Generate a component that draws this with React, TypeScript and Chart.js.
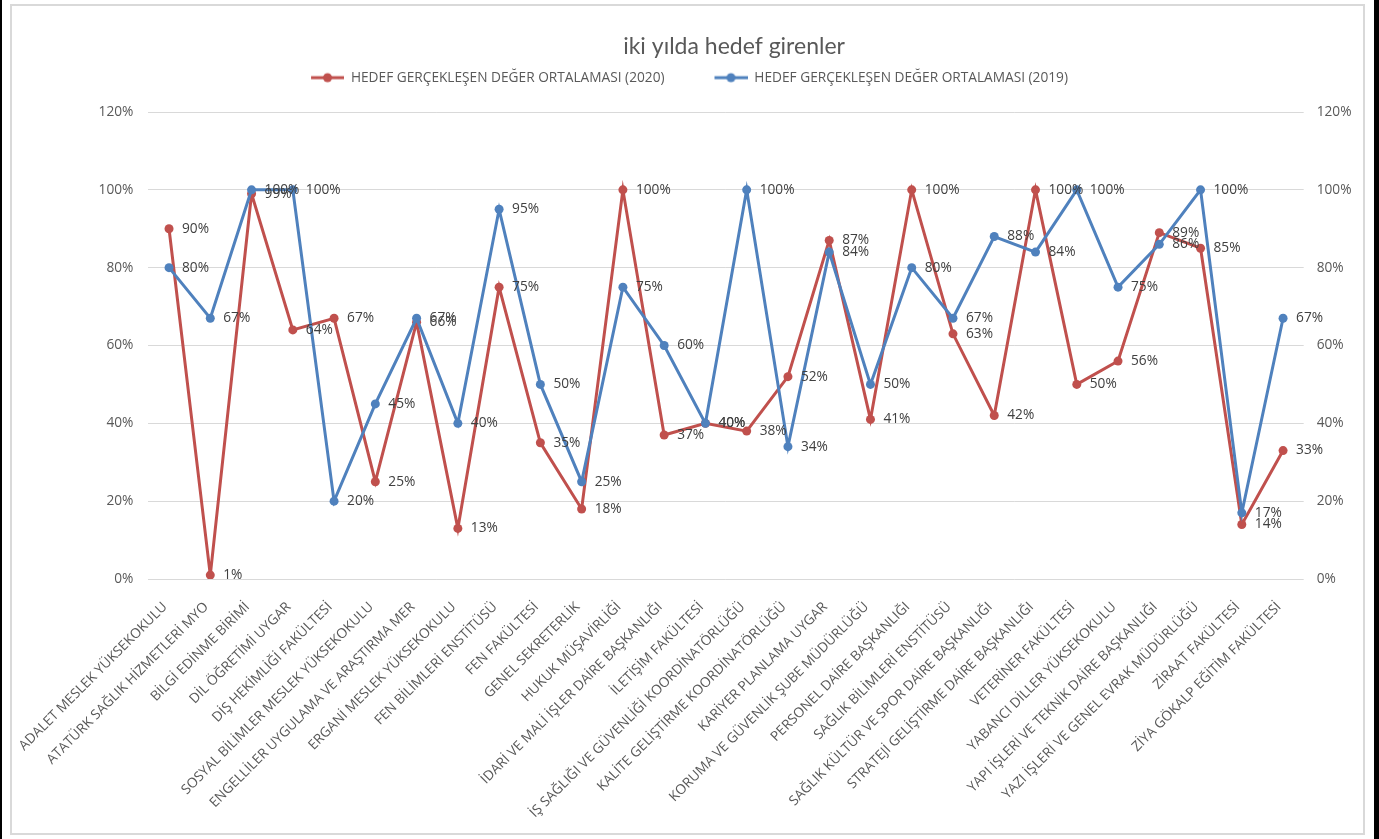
import React, { useEffect, useRef } from "react";
import { Chart, registerables } from "chart.js";

Chart.register(...registerables);

const categories = [
  "ADALET MESLEK YÜKSEKOKULU",
  "ATATÜRK SAĞLIK HİZMETLERİ MYO",
  "BİLGİ EDİNME BİRİMİ",
  "DİL ÖĞRETİMİ UYGAR",
  "DİŞ HEKİMLİĞİ FAKÜLTESİ",
  "SOSYAL BİLİMLER MESLEK YÜKSEKOKULU",
  "ENGELLİLER UYGULAMA VE ARAŞTIRMA MER",
  "ERGANİ MESLEK YÜKSEKOKULU",
  "FEN BİLİMLERİ ENSTİTÜSÜ",
  "FEN FAKÜLTESİ",
  "GENEL SEKRETERLİK",
  "HUKUK MÜŞAVİRLİĞİ",
  "İDARİ VE MALİ İŞLER DAİRE BAŞKANLIĞI",
  "İLETİŞİM FAKÜLTESİ",
  "İŞ SAĞLIĞI VE GÜVENLİĞİ KOORDİNATÖRLÜĞÜ",
  "KALİTE GELİŞTİRME KOORDİNATÖRLÜĞÜ",
  "KARİYER PLANLAMA UYGAR",
  "KORUMA VE GÜVENLİK ŞUBE MÜDÜRLÜĞÜ",
  "PERSONEL DAİRE BAŞKANLIĞI",
  "SAĞLIK BİLİMLERİ ENSTİTÜSÜ",
  "SAĞLIK KÜLTÜR VE SPOR DAİRE BAŞKANLIĞI",
  "STRATEJİ GELİŞTİRME DAİRE BAŞKANLIĞI",
  "VETERİNER FAKÜLTESİ",
  "YABANCI DİLLER YÜKSEKOKULU",
  "YAPI İŞLERİ VE TEKNİK DAİRE BAŞKANLIĞI",
  "YAZI İŞLERİ VE GENEL EVRAK MÜDÜRLÜĞÜ",
  "ZİRAAT FAKÜLTESİ",
  "ZİYA GÖKALP EĞİTİM FAKÜLTESİ",
];

const values2020 = [90, 1, 99, 64, 67, 25, 66, 13, 75, 35, 18, 100, 37, 40, 38, 52, 87, 41, 100, 63, 42, 100, 50, 56, 89, 85, 14, 33];
const values2019 = [80, 67, 100, 100, 20, 45, 67, 40, 95, 50, 25, 75, 60, 40, 100, 34, 84, 50, 80, 67, 88, 84, 100, 75, 86, 100, 17, 67];

const seriesNames = [
  "HEDEF GERÇEKLEŞEN DEĞER ORTALAMASI (2020)",
  "HEDEF GERÇEKLEŞEN DEĞER ORTALAMASI (2019)",
];
const chartTitle = "iki yılda hedef girenler";
const yMin = 0;
const yMax = 120;
const yStep = 20;

const RED = "#C0504D";
const BLUE = "#4F81BD";
const TEXT = "#595959";
const FONT = "'Open Sans', sans-serif";
const FS = 13.7;

function makeLegendIcon(color: string) {
  const c = document.createElement("canvas");
  c.width = 73;
  c.height = 12;
  const ctx = c.getContext("2d")!;
  ctx.strokeStyle = color;
  ctx.lineWidth = 3;
  ctx.beginPath();
  ctx.moveTo(40, 6);
  ctx.lineTo(73, 6);
  ctx.stroke();
  ctx.fillStyle = color;
  ctx.beginPath();
  ctx.arc(56.5, 6, 4.5, 0, Math.PI * 2);
  ctx.fill();
  return c;
}

const layoutTweaks = {
  id: "layoutTweaks",
  beforeLayout(chart: any) {
    const lg = chart.legend;
    if (lg && !lg._patched) {
      const orig = lg.fit;
      lg.fit = function () {
        orig.call(this);
        this.height += 17.5;
      };
      lg._patched = true;
    }
  },
  afterLayout(chart: any) {
    const t = chart.titleBlock;
    if (t) {
      t.left += 8;
      t.right += 8;
    }
  },
};

const dataLabels = {
  id: "dataLabels",
  afterDatasetsDraw(chart: any) {
    const ctx = chart.ctx;
    ctx.save();
    ctx.font = `${FS}px ${FONT}`;
    ctx.fillStyle = "#404040";
    ctx.textAlign = "left";
    ctx.textBaseline = "middle";
    chart.data.datasets.forEach((ds: any, di: number) => {
      const meta = chart.getDatasetMeta(di);
      meta.data.forEach((pt: any, i: number) => {
        ctx.fillText(`${ds.data[i]}%`, pt.x + 13, pt.y);
      });
    });
    ctx.restore();
  },
};

export default function App() {
  const ref = useRef<HTMLCanvasElement>(null);

  useEffect(() => {
    if (!ref.current) return;
    const icons = [makeLegendIcon(RED), makeLegendIcon(BLUE)];
    const tickFont = { family: FONT, size: FS };
    const chart = new Chart(ref.current, {
      type: "line",
      data: {
        labels: categories,
        datasets: [
          {
            label: seriesNames[0],
            data: values2020,
            borderColor: RED,
            backgroundColor: RED,
            pointBackgroundColor: RED,
            pointBorderColor: RED,
            borderWidth: 3,
            pointRadius: 4.5,
            pointBorderWidth: 0,
            tension: 0,
            order: 1,
            yAxisID: "y",
          },
          {
            label: seriesNames[1],
            data: values2019,
            borderColor: BLUE,
            backgroundColor: BLUE,
            pointBackgroundColor: BLUE,
            pointBorderColor: BLUE,
            borderWidth: 3,
            pointRadius: 4.5,
            pointBorderWidth: 0,
            tension: 0,
            order: 0,
            yAxisID: "y",
          },
        ],
      },
      options: {
        animation: false,
        responsive: false,
        layout: { padding: { left: -40, right: 0, top: 0, bottom: 0 } },
        plugins: {
          title: {
            display: true,
            text: chartTitle,
            fullSize: false,
            color: TEXT,
            font: { family: "Lato, sans-serif", size: 23, weight: "normal" },
            padding: { top: 33.2, bottom: 0 },
          },
          legend: {
            display: true,
            position: "top",
            labels: {
              usePointStyle: true,
              pointStyleWidth: 73,
              padding: 10,
              color: TEXT,
              font: { family: FONT, size: FS },
              generateLabels: (ch: any) =>
                ch.data.datasets.map((ds: any, i: number) => ({
                  text: ds.label,
                  fillStyle: ds.borderColor,
                  strokeStyle: ds.borderColor,
                  fontColor: TEXT,
                  lineWidth: 0,
                  pointStyle: icons[i],
                  datasetIndex: i,
                  hidden: false,
                })),
            },
          },
          tooltip: { enabled: false },
        },
        scales: {
          x: {
            type: "category",
            offset: true,
            grid: { display: false },
            border: { display: false },
            ticks: {
              autoSkip: false,
              minRotation: 45,
              maxRotation: 45,
              padding: 12,
              labelOffset: -4,
              color: TEXT,
              font: { family: FONT, size: FS },
            },
            afterFit: (s: any) => {
              s.height = 260;
            },
          },
          y: {
            position: "left",
            min: yMin,
            max: yMax,
            ticks: {
              stepSize: yStep,
              callback: (v: any) => `${v}%`,
              padding: 15,
              color: TEXT,
              font: tickFont,
            },
            grid: { color: "#d9d9d9", drawTicks: false, lineWidth: 1 },
            border: { display: false },
            afterFit: (s: any) => {
              s.width = 188.4;
            },
          },
          y1: {
            position: "right",
            min: yMin,
            max: yMax,
            ticks: {
              stepSize: yStep,
              callback: (v: any) => `${v}%`,
              padding: 13,
              color: TEXT,
              font: tickFont,
            },
            grid: { display: false, drawTicks: false },
            border: { display: false },
            afterFit: (s: any) => {
              s.width = 75.3;
            },
          },
        },
      } as any,
      plugins: [layoutTweaks, dataLabels],
    });
    return () => chart.destroy();
  }, []);

  return (
    <div style={{ position: "fixed", left: 0, top: 0, width: 1379, height: 839, background: "#fff", overflow: "hidden" }}>
      <div style={{ position: "absolute", left: 0, top: 0, width: 2, height: 839, background: "#000" }} />
      <div style={{ position: "absolute", left: 1374, top: 0, width: 5, height: 839, background: "#000" }} />
      <div
        style={{
          position: "absolute",
          left: 10,
          top: 4,
          width: 1355,
          height: 831,
          border: "2px solid #d9d9d9",
          boxSizing: "border-box",
        }}
      />
      <canvas ref={ref} width={1379} height={839} style={{ position: "absolute", left: 0, top: 0 }} />
    </div>
  );
}
